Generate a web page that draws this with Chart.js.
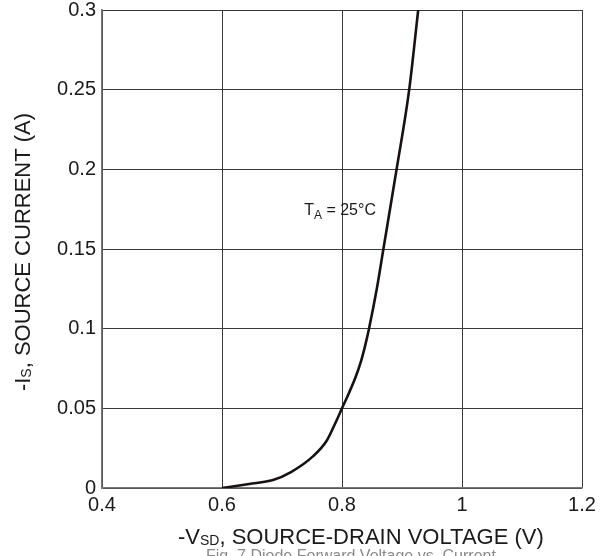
<!DOCTYPE html>
<html>
<head>
<meta charset="utf-8">
<script src="https://cdn.jsdelivr.net/npm/chart.js@4/dist/chart.umd.min.js"></script>
<style>
html,body{margin:0;padding:0;background:#fff;}
#wrap{width:610px;height:556px;position:relative;}
</style>
</head>
<body>
<div id="wrap"><canvas id="c" width="610" height="556"></canvas></div>
<script>
// Data (T_A = 25°C)
const vsd  = [0.600, 0.645, 0.685, 0.715, 0.752, 0.775, 0.788, 0.800, 0.812, 0.823, 0.832, 0.839, 0.845, 0.858, 0.869, 0.891, 0.912, 0.927];
const isrc = [0.000, 0.0025, 0.005, 0.010, 0.020, 0.030, 0.040, 0.050, 0.060, 0.070, 0.080, 0.090, 0.100, 0.125, 0.150, 0.200, 0.250, 0.300];
const xTickLabels = ["0.4", "0.6", "0.8", "1", "1.2"];
const yTickLabels = ["0", "0.05", "0.1", "0.15", "0.2", "0.25", "0.3"];
const xTickValues = [0.4, 0.6, 0.8, 1.0, 1.2];
const yTickValues = [0, 0.05, 0.1, 0.15, 0.2, 0.25, 0.3];
const annotationText = {main: "T", sub: "A", rest: " = 25°C", x: 0.737, y: 0.1713};
const caption = "Fig. 7 Diode Forward Voltage vs. Current";

const FONT = "'Liberation Sans', Arial, sans-serif";

function labelFor(values, labels, v){
  for (let i=0;i<values.length;i++){ if (Math.abs(values[i]-v) < 1e-6) return labels[i]; }
  return "";
}

function drawSub(ctx, parts, x, y, align){
  let total = 0;
  parts.forEach(p => { ctx.font = p.size + "px " + FONT; p.w = ctx.measureText(p.t).width; total += p.w; });
  let cx = align === "center" ? x - total/2 : x;
  parts.forEach(p => {
    ctx.font = p.size + "px " + FONT;
    ctx.textAlign = "left";
    ctx.fillText(p.t, cx, y + (p.dy||0));
    cx += p.w;
  });
}

const textPlugin = {
  id: "texts",
  afterDraw(chart){
    const ctx = chart.ctx;
    const xs = chart.scales.x, ys = chart.scales.y;
    ctx.save();
    ctx.fillStyle = "#1a1a1a";
    ctx.textBaseline = "alphabetic";
    // x axis title
    drawSub(ctx, [
      {t:"-V", size:22},
      {t:"SD", size:14, dy:1},
      {t:", SOURCE-DRAIN VOLTAGE (V)", size:22}
    ], 178, 544, "left");
    // y axis title (rotated)
    ctx.save();
    ctx.translate(30, 252);
    ctx.rotate(-Math.PI/2);
    drawSub(ctx, [
      {t:"-I", size:22},
      {t:"S", size:14, dy:1},
      {t:", SOURCE CURRENT (A)", size:22}
    ], 0, 0, "center");
    ctx.restore();
    // annotation
    const ax = xs.getPixelForValue(annotationText.x);
    const ay = ys.getPixelForValue(annotationText.y);
    ctx.fillStyle = "#1a1a1a";
    drawSub(ctx, [
      {t:annotationText.main, size:16},
      {t:annotationText.sub, size:12, dy:4},
      {t:annotationText.rest, size:16}
    ], ax, ay, "left");
    // caption (cut off at the bottom in the reference)
    ctx.fillStyle = "#8a8a8a";
    ctx.font = "16px " + FONT;
    ctx.textAlign = "left";
    ctx.fillText(caption, 206, 561);
    ctx.restore();
  }
};

new Chart(document.getElementById("c"), {
  type: "scatter",
  data: {
    datasets: [{
      data: vsd.map((v,i)=>({x:v, y:isrc[i]})),
      showLine: true,
      borderColor: "#171212",
      borderWidth: 2.6,
      pointRadius: 0,
      cubicInterpolationMode: "monotone",
      fill: false
    }]
  },
  options: {
    responsive: false,
    animation: false,
    devicePixelRatio: 1,
    layout: {padding: {top: 10, right: 28, left: 0, bottom: 0}},
    plugins: {legend: {display: false}, tooltip: {enabled: false}},
    scales: {
      x: {
        type: "linear", min: 0.4, max: 1.2,
        afterBuildTicks(s){ s.ticks = xTickValues.map(v=>({value:v})); },
        afterFit(s){ s.height = 68; s.paddingLeft = 0; s.paddingRight = 0; },
        grid: {color: "#3a3a3a", lineWidth: 1, drawTicks: false},
        border: {color: "#777", width: 1.5},
        ticks: {
          color: "#1a1a1a", font: {family: FONT, size: 20}, padding: 5,
          maxRotation: 0,
          callback: (v)=>labelFor(xTickValues, xTickLabels, v)
        }
      },
      y: {
        type: "linear", min: 0, max: 0.3,
        afterBuildTicks(s){ s.ticks = yTickValues.map(v=>({value:v})); },
        afterFit(s){ s.width = 102; s.paddingTop = 0; s.paddingBottom = 0; },
        grid: {color: "#3a3a3a", lineWidth: 1, drawTicks: false},
        border: {color: "#777", width: 1.5},
        ticks: {
          color: "#1a1a1a", font: {family: FONT, size: 20}, padding: 6,
          callback: (v)=>labelFor(yTickValues, yTickLabels, v)
        }
      }
    }
  },
  plugins: [textPlugin]
});
</script>
</body>
</html>
